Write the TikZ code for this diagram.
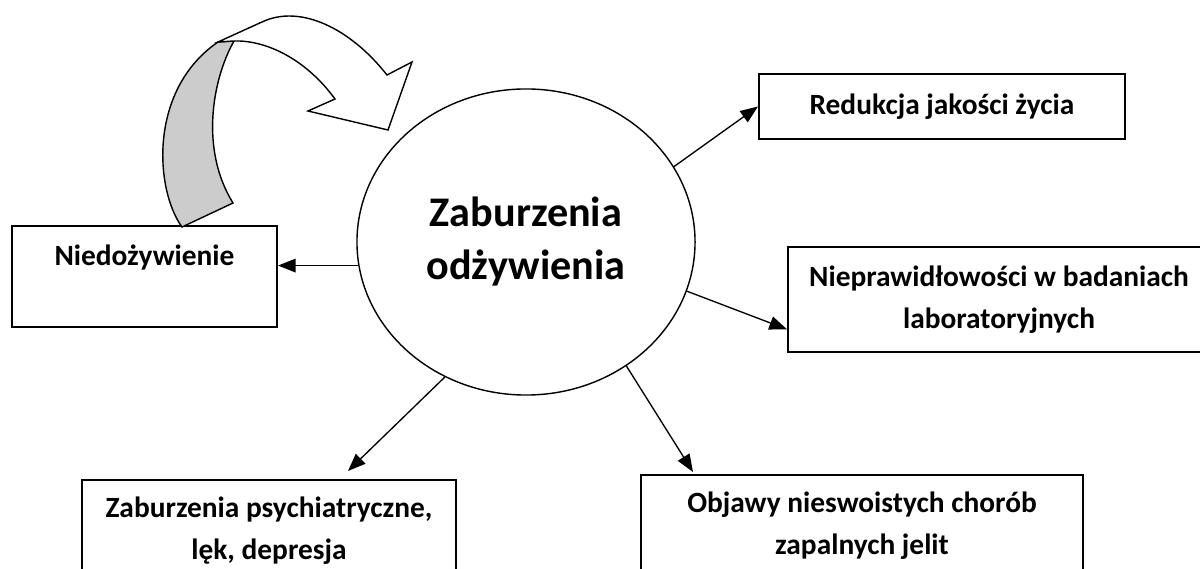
\documentclass[tikz,border=0pt]{standalone}
\usepackage{fontspec}
\setmainfont{Carlito}
\usetikzlibrary{arrows.meta,positioning,calc,shapes.geometric}
\definecolor{Ink}{HTML}{000000}
\definecolor{Shade}{HTML}{CCCCCC}

\begin{document}
\begin{tikzpicture}[x=0.025cm,y=-0.025cm,
    box/.style={draw=Ink,line width=1.4pt,align=center,inner sep=0pt,font=\bfseries\fontsize{20.9}{30}\selectfont},
    hub/.style={ellipse,draw=Ink,line width=1pt,align=center,inner sep=0pt,font=\bfseries\fontsize{30}{37.7}\selectfont},
    conn/.style={draw=Ink,line width=0.95pt,-{Triangle[length=4.4mm,width=3.4mm]}},
    loopbody/.style={draw=Ink,line width=1pt}]
    \useasboundingbox (0,0) rectangle (1200,569);
    \clip (0,0) rectangle (1200,569);
    \node[hub,minimum width=8.45cm,minimum height=7.65cm] (circ) at (526,242) {Zaburzenia\\odżywienia};
    \node[box,minimum width=6.625cm,minimum height=2.525cm] (ned) at (144.5,276.5) {Niedożywienie\\\mbox{}};
    \node[box,minimum width=9.15cm,minimum height=1.625cm] (red) at (942,106.5) {Redukcja jakości życia};
    \node[box,minimum width=10.55cm,minimum height=2.625cm] (lab) at (999,299.5) {Nieprawidłowości w badaniach\\laboratoryjnych};
    \node[box,minimum width=9.35cm,minimum height=2.55cm] (psy) at (269,531) {Zaburzenia psychiatryczne,\\lęk, depresja};
    \node[box,minimum width=11.05cm,minimum height=2.55cm] (obj) at (862,526) {Objawy nieswoistych chorób\\zapalnych jelit};
    \draw[conn] (circ.188) -- (circ.188 -| ned.east);
    \draw[conn] (circ.27) -- (red.west);
    \draw[conn] (circ.343) -- (lab.188);
    \draw[conn] (circ.239) -- ($(psy.north)+(79,-8)$);
    \draw[conn] (circ.309) -- ($(obj.north)+(-169,-2)$);
    % curved arrow back into the hub
    \filldraw[loopbody,fill=Shade] (218,42) -- (234,41) .. controls (212,80) and (200,150) .. (233,203) -- (182,227) .. controls (155,190) and (148,90) .. cycle;
    \filldraw[loopbody,fill=white] (218,42) -- (262,22) .. controls (300,4) and (350,28) .. (387,75) -- (412,62) -- (388,130) -- (308,111) -- (335,99) .. controls (305,58) and (265,40) .. (234,41) -- cycle;
\end{tikzpicture}
\end{document}
